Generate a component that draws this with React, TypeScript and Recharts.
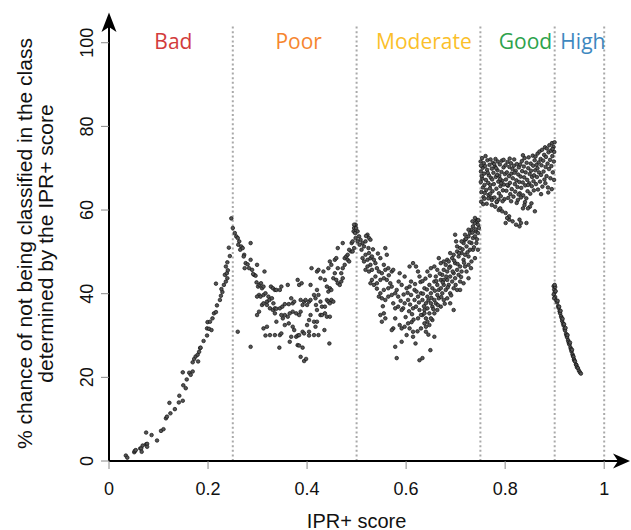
import React from 'react';
import { ScatterChart, Scatter, XAxis, YAxis, ReferenceLine, ReferenceDot } from 'recharts';

// IPR+ score vs % chance of misclassification
const badPts = [
  [0.034, 1.3], [0.037, 0.8], [0.051, 2.1], [0.052, 2.4], [0.054, 2.6], [0.063, 3.0], [0.065, 3.0],
  [0.066, 2.2], [0.068, 3.7], [0.075, 4.0], [0.077, 4.1], [0.077, 3.4], [0.075, 6.8], [0.086, 6.2],
  [0.097, 4.9], [0.105, 7.2], [0.110, 7.6], [0.115, 10.2], [0.117, 10.6], [0.124, 11.4], [0.133, 12.4],
  [0.122, 13.9], [0.141, 14.0], [0.142, 15.6], [0.149, 14.4], [0.150, 18.1], [0.155, 17.4], [0.157, 19.5],
  [0.162, 21.1], [0.165, 20.6], [0.169, 21.4], [0.149, 21.2], [0.169, 23.6], [0.172, 24.4], [0.175, 25.0],
  [0.179, 25.4], [0.182, 26.1], [0.180, 23.8], [0.184, 27.0], [0.185, 27.1], [0.191, 28.7], [0.198, 30.0],
  [0.198, 31.7], [0.202, 31.6], [0.207, 31.3], [0.199, 33.2], [0.204, 33.3], [0.209, 34.1], [0.212, 35.3],
  [0.216, 35.6], [0.218, 37.2], [0.216, 42.4], [0.224, 38.5], [0.226, 39.5], [0.229, 40.4], [0.227, 41.1],
  [0.232, 42.1], [0.236, 42.9], [0.239, 43.7], [0.234, 44.5], [0.238, 44.9], [0.240, 45.6], [0.236, 46.5],
  [0.239, 47.5], [0.242, 51.0], [0.244, 49.0],
];

const poorPts = [
  [0.247, 58.0], [0.250, 55.7], [0.254, 54.5], [0.257, 53.7], [0.260, 53.3], [0.263, 52.5], [0.261, 51.7],
  [0.267, 51.3], [0.265, 50.5], [0.270, 50.9], [0.273, 49.3], [0.272, 48.9], [0.276, 47.3], [0.280, 47.0],
  [0.274, 46.1], [0.283, 46.1], [0.286, 52.1], [0.286, 48.1], [0.289, 45.7], [0.293, 44.5], [0.296, 44.3],
  [0.299, 46.9], [0.291, 44.7], [0.298, 42.7], [0.301, 41.7], [0.304, 42.1], [0.307, 42.5], [0.309, 41.3],
  [0.312, 41.7], [0.303, 39.7], [0.306, 39.3], [0.312, 39.7], [0.299, 39.3], [0.314, 45.3], [0.316, 40.1],
  [0.319, 38.1], [0.309, 37.3], [0.312, 37.7], [0.299, 34.9], [0.303, 35.7], [0.319, 37.3], [0.322, 39.3],
  [0.324, 38.5], [0.327, 41.7], [0.331, 41.3], [0.335, 40.9], [0.338, 40.9], [0.345, 40.9], [0.348, 41.7],
  [0.329, 38.9], [0.332, 37.7], [0.325, 36.5], [0.331, 36.1], [0.335, 36.5], [0.338, 36.4], [0.345, 36.5],
  [0.350, 36.9], [0.355, 37.5], [0.361, 42.1], [0.368, 38.9], [0.371, 37.7], [0.363, 37.5], [0.374, 38.1],
  [0.381, 43.3], [0.384, 42.1], [0.389, 42.5], [0.378, 35.3], [0.371, 35.7], [0.365, 35.3], [0.361, 34.5],
  [0.355, 34.9], [0.351, 34.1], [0.348, 34.9], [0.384, 34.9], [0.387, 35.7], [0.391, 37.3], [0.387, 38.5],
  [0.394, 38.1], [0.397, 38.5], [0.400, 37.3], [0.404, 38.1], [0.407, 38.5], [0.407, 42.1], [0.409, 46.1],
  [0.414, 39.7], [0.417, 38.9], [0.420, 40.9], [0.423, 39.7], [0.427, 38.1], [0.418, 37.3], [0.420, 36.1],
  [0.430, 36.9], [0.427, 34.9], [0.430, 34.9], [0.436, 35.3], [0.440, 34.5], [0.446, 34.5], [0.436, 36.9],
  [0.440, 38.5], [0.443, 38.1], [0.446, 37.7], [0.449, 38.5], [0.453, 38.1], [0.443, 40.5], [0.446, 41.3],
  [0.449, 40.9], [0.440, 41.7], [0.436, 43.3], [0.427, 43.7], [0.420, 45.3], [0.423, 45.7], [0.433, 45.3],
  [0.443, 46.1], [0.446, 47.7], [0.449, 46.9], [0.456, 48.1], [0.459, 48.5], [0.462, 46.1], [0.456, 44.9],
  [0.453, 43.7], [0.459, 43.3], [0.462, 42.5], [0.466, 42.1], [0.469, 42.9], [0.472, 43.7], [0.469, 44.9],
  [0.472, 46.1], [0.476, 46.9], [0.476, 48.5], [0.479, 48.9], [0.482, 48.1], [0.485, 47.7], [0.489, 50.1],
  [0.485, 50.5], [0.482, 49.3], [0.492, 50.1], [0.495, 50.9], [0.490, 52.1], [0.498, 53.3], [0.494, 54.9],
  [0.495, 55.7], [0.498, 56.5], [0.492, 52.5], [0.462, 50.9], [0.472, 52.1],
  [0.312, 31.7], [0.319, 32.1], [0.316, 30.0], [0.325, 30.1], [0.335, 30.1], [0.345, 30.1], [0.348, 30.5],
  [0.338, 33.3], [0.355, 32.5], [0.363, 32.9], [0.371, 32.1], [0.374, 31.3], [0.368, 29.7], [0.378, 29.7],
  [0.381, 30.0], [0.384, 30.1], [0.391, 30.9], [0.394, 30.5], [0.400, 32.5], [0.404, 30.9], [0.404, 30.0],
  [0.414, 33.3], [0.417, 32.1], [0.420, 33.3], [0.414, 30.1], [0.423, 30.1], [0.407, 34.9], [0.335, 35.3],
  [0.365, 28.5], [0.381, 27.7], [0.384, 27.6], [0.391, 27.1], [0.387, 24.9], [0.394, 23.9], [0.398, 24.4],
  [0.344, 27.1], [0.286, 27.3], [0.260, 30.9], [0.445, 28.1], [0.435, 31.3], [0.404, 33.7],
];

const moderatePts = [
  [0.495, 56.5], [0.499, 55.7], [0.502, 54.9], [0.497, 54.5], [0.505, 53.7], [0.508, 52.9], [0.502, 52.5],
  [0.512, 52.1], [0.506, 51.7], [0.515, 51.3], [0.510, 50.5], [0.522, 54.1], [0.525, 53.3], [0.528, 52.9],
  [0.518, 52.5], [0.524, 50.9], [0.525, 49.7], [0.518, 49.3], [0.512, 48.5], [0.515, 47.7], [0.522, 48.1],
  [0.528, 48.5], [0.531, 48.9], [0.535, 48.1], [0.538, 47.3], [0.528, 46.9], [0.522, 46.5], [0.518, 45.7],
  [0.525, 45.3], [0.531, 45.7], [0.541, 46.1], [0.545, 45.3], [0.551, 44.9], [0.558, 50.9], [0.561, 49.3],
  [0.548, 48.5], [0.555, 46.9], [0.558, 45.7], [0.564, 46.1], [0.571, 45.3], [0.574, 45.7], [0.538, 44.1],
  [0.531, 43.3], [0.528, 42.5], [0.535, 42.1], [0.541, 42.5], [0.548, 43.3], [0.555, 43.7], [0.561, 43.3],
  [0.568, 42.5], [0.571, 41.7], [0.564, 41.3], [0.555, 40.9], [0.548, 40.1], [0.545, 39.3], [0.551, 38.9],
  [0.558, 38.5], [0.564, 39.3], [0.571, 39.7], [0.578, 40.1], [0.581, 40.9], [0.584, 39.3], [0.591, 42.1],
  [0.587, 44.9], [0.597, 44.1], [0.601, 41.3], [0.607, 41.7], [0.610, 42.9], [0.614, 47.3], [0.607, 46.5],
  [0.620, 46.5], [0.624, 45.3], [0.627, 44.1], [0.617, 40.9], [0.610, 39.7], [0.604, 38.5], [0.597, 37.7],
  [0.594, 36.5], [0.591, 36.1], [0.584, 36.9], [0.578, 36.5], [0.574, 37.7], [0.555, 35.3], [0.548, 34.9],
  [0.558, 34.1], [0.551, 33.3], [0.578, 34.1], [0.587, 32.5], [0.591, 31.7], [0.597, 32.1], [0.604, 32.9],
  [0.607, 31.7], [0.614, 30.9], [0.601, 30.1], [0.591, 28.5], [0.578, 27.3], [0.574, 31.7], [0.571, 31.3],
  [0.614, 29.7], [0.630, 31.7], [0.640, 30.9], [0.647, 32.5], [0.653, 33.7], [0.657, 29.7], [0.649, 26.5],
  [0.581, 24.6], [0.627, 24.1], [0.633, 24.6],
  [0.617, 38.5], [0.624, 39.3], [0.630, 40.1], [0.637, 41.3], [0.633, 38.5], [0.640, 37.7], [0.643, 39.3],
  [0.650, 40.1], [0.647, 42.1], [0.653, 41.3], [0.657, 42.9], [0.660, 44.1], [0.663, 42.1], [0.666, 40.9],
  [0.670, 43.3], [0.673, 44.5], [0.676, 45.7], [0.680, 46.9], [0.683, 48.1], [0.686, 47.7], [0.689, 46.5],
  [0.693, 48.5], [0.696, 49.3], [0.699, 47.3], [0.703, 50.1], [0.706, 48.9], [0.709, 50.9], [0.712, 49.7],
  [0.716, 52.1], [0.719, 52.9], [0.722, 51.3], [0.726, 53.7], [0.729, 54.5], [0.732, 55.3], [0.735, 56.1],
  [0.739, 56.9], [0.742, 57.7], [0.745, 56.5], [0.741, 54.9], [0.735, 53.3], [0.732, 52.1], [0.729, 50.5],
  [0.726, 48.9], [0.719, 49.3], [0.716, 48.1], [0.709, 46.5], [0.703, 45.7], [0.696, 44.9], [0.689, 44.1],
  [0.683, 43.3], [0.676, 42.1], [0.670, 41.3], [0.663, 39.7], [0.657, 38.5], [0.650, 37.7], [0.643, 36.5],
  [0.637, 36.1], [0.633, 34.9], [0.640, 34.1], [0.647, 35.3], [0.653, 36.9], [0.660, 37.7], [0.666, 38.9],
  [0.673, 40.1], [0.680, 40.9], [0.686, 42.1], [0.693, 42.9], [0.699, 43.7], [0.706, 44.5], [0.712, 45.3],
  [0.719, 46.5], [0.726, 46.9], [0.732, 47.7], [0.739, 48.5], [0.745, 50.5], [0.742, 52.1], [0.739, 53.7],
  [0.745, 54.5], [0.735, 50.5], [0.722, 45.3], [0.709, 42.9], [0.703, 40.9], [0.696, 41.3], [0.689, 40.1],
  [0.683, 38.9], [0.676, 38.5], [0.670, 36.9], [0.663, 36.1], [0.657, 35.3], [0.650, 34.1], [0.643, 33.3],
  [0.640, 32.1], [0.637, 32.9], [0.637, 35.3], [0.627, 36.1], [0.620, 36.9], [0.614, 36.5], [0.624, 34.1],
  [0.630, 34.9], [0.696, 36.1], [0.689, 37.7], [0.676, 43.3], [0.663, 45.7], [0.657, 46.5], [0.650, 46.1],
  [0.643, 45.3], [0.670, 47.3], [0.676, 47.7], [0.666, 48.5], [0.689, 49.7], [0.703, 51.3], [0.712, 52.5],
  [0.726, 55.3], [0.719, 54.1], [0.739, 58.1], [0.744, 57.3], [0.747, 55.7], [0.734, 57.3], [0.709, 40.9],
  [0.716, 42.5], [0.726, 43.7], [0.683, 45.3], [0.699, 54.1], [0.701, 52.5],
  [0.603, 40.2], [0.608, 37.4], [0.612, 35.1], [0.618, 42.3], [0.621, 40.5], [0.626, 37.9], [0.629, 42.8],
  [0.634, 40.0], [0.636, 37.0], [0.639, 43.6], [0.642, 41.0], [0.645, 38.4], [0.648, 44.3], [0.651, 39.0],
  [0.655, 36.3], [0.658, 40.7], [0.661, 43.0], [0.664, 37.3], [0.668, 44.8], [0.671, 39.2], [0.674, 42.7],
  [0.678, 37.6], [0.681, 44.1], [0.684, 41.5], [0.687, 46.2], [0.691, 39.6], [0.694, 45.3], [0.697, 47.9],
  [0.700, 42.1], [0.704, 47.1], [0.707, 49.7], [0.711, 44.0], [0.714, 50.6], [0.717, 47.4], [0.721, 53.1],
  [0.724, 49.9], [0.728, 52.3], [0.731, 46.1], [0.734, 54.6], [0.737, 51.1], [0.740, 55.4], [0.743, 53.0],
  [0.746, 57.6], [0.611, 33.2], [0.623, 31.0], [0.619, 28.1], [0.606, 35.8], [0.599, 34.4], [0.589, 38.3],
  [0.585, 42.9], [0.565, 44.4], [0.543, 49.6], [0.533, 50.6], [0.519, 53.8], [0.541, 41.2], [0.553, 37.0],
  [0.595, 39.8], [0.633, 43.0], [0.645, 30.2], [0.615, 33.8],
];

const goodPts = [
  [0.7505, 71.6], [0.7512, 69.2], [0.7508, 66.7], [0.7521, 64.3], [0.7516, 62.0], [0.7534, 72.4], [0.7547, 70.1],
  [0.7539, 67.5], [0.7552, 65.4], [0.7561, 63.1], [0.7568, 71.2], [0.7575, 68.7], [0.7583, 66.0], [0.7579, 62.7],
  [0.7596, 70.5], [0.7604, 72.9], [0.7611, 67.2], [0.7619, 64.8], [0.7627, 61.5], [0.7635, 69.6], [0.7642, 71.9],
  [0.7656, 66.5], [0.7663, 63.6], [0.7671, 68.3], [0.7684, 70.8], [0.7692, 65.2], [0.7705, 72.1], [0.7713, 67.7],
  [0.7722, 62.9], [0.7731, 69.9], [0.7744, 64.5], [0.7752, 71.3], [0.7526, 68.1], [0.7588, 64.1], [0.7648, 68.9],
  [0.7701, 66.0], [0.7738, 67.3], [0.7512, 70.6], [0.7557, 61.4], [0.7699, 63.9],
  [0.7763, 68.9], [0.7771, 66.2], [0.7784, 63.0], [0.7792, 70.4], [0.7805, 72.2], [0.7811, 67.9], [0.7823, 65.1],
  [0.7830, 61.9], [0.7846, 69.5], [0.7851, 71.6], [0.7862, 66.8], [0.7874, 64.0], [0.7881, 68.2], [0.7893, 70.9],
  [0.7905, 65.7], [0.7912, 63.3], [0.7926, 69.1], [0.7933, 71.8], [0.7941, 67.0], [0.7955, 64.7], [0.7968, 70.2],
  [0.7974, 66.1], [0.7986, 62.6], [0.7995, 68.6], [0.7779, 71.0], [0.7838, 68.4], [0.7899, 67.4], [0.7948, 62.1],
  [0.7817, 70.0], [0.7969, 72.0], [0.7867, 62.5], [0.7920, 66.4],
  [0.8008, 70.7], [0.8016, 67.3], [0.8025, 64.6], [0.8034, 69.0], [0.8047, 71.5], [0.8059, 65.8], [0.8063, 62.9],
  [0.8078, 68.1], [0.8085, 70.3], [0.8097, 66.5], [0.8104, 63.8], [0.8116, 71.2], [0.8125, 68.7], [0.8133, 65.0],
  [0.8147, 69.8], [0.8154, 67.6], [0.8168, 63.2], [0.8176, 70.6], [0.8182, 72.1], [0.8195, 66.2], [0.8203, 64.4],
  [0.8214, 69.4], [0.8227, 67.1], [0.8236, 71.0], [0.8248, 65.5], [0.8256, 62.4], [0.8264, 68.5], [0.8277, 70.2],
  [0.8286, 66.7], [0.8295, 64.0], [0.8041, 66.0], [0.8121, 62.1], [0.8189, 68.9], [0.8272, 63.7], [0.8092, 72.3],
  [0.8233, 61.7],
  [0.8304, 70.9], [0.8312, 68.0], [0.8325, 65.3], [0.8337, 71.7], [0.8343, 69.3], [0.8356, 66.6], [0.8364, 63.5],
  [0.8378, 70.4], [0.8385, 67.8], [0.8392, 72.4], [0.8406, 65.9], [0.8413, 69.0], [0.8427, 62.8], [0.8434, 71.3],
  [0.8446, 67.2], [0.8453, 64.5], [0.8467, 70.0], [0.8474, 72.6], [0.8488, 66.4], [0.8495, 68.6], [0.8507, 63.9],
  [0.8516, 71.1], [0.8524, 69.4], [0.8538, 65.7], [0.8545, 67.9], [0.8557, 73.0], [0.8566, 70.6], [0.8579, 64.7],
  [0.8584, 68.3], [0.8596, 71.9], [0.8319, 63.0], [0.8401, 61.9], [0.8462, 66.0], [0.8531, 61.6], [0.8573, 66.9],
  [0.8359, 73.1],
  [0.8607, 69.5], [0.8614, 72.8], [0.8623, 66.2], [0.8635, 70.8], [0.8642, 67.9], [0.8656, 73.5], [0.8663, 64.9],
  [0.8677, 71.4], [0.8684, 69.0], [0.8695, 74.0], [0.8704, 66.8], [0.8716, 72.2], [0.8725, 68.4], [0.8733, 70.7],
  [0.8746, 74.4], [0.8752, 65.6], [0.8768, 71.8], [0.8775, 69.2], [0.8787, 73.2], [0.8793, 67.3], [0.8805, 75.0],
  [0.8817, 70.3], [0.8824, 72.7], [0.8836, 68.1], [0.8843, 74.7], [0.8857, 71.1], [0.8864, 65.4], [0.8876, 73.8],
  [0.8885, 69.8], [0.8893, 75.5], [0.8907, 72.0], [0.8914, 67.6], [0.8926, 74.2], [0.8933, 70.5], [0.8946, 76.0],
  [0.8953, 72.9], [0.8962, 69.0], [0.8975, 75.1], [0.8983, 71.6], [0.8991, 73.9], [0.8987, 67.2], [0.8941, 65.0],
  [0.8871, 64.2], [0.8725, 63.8], [0.8998, 76.2], [0.8958, 74.6], [0.8812, 66.4], [0.8652, 70.0],
  [0.773, 61.2], [0.780, 60.8], [0.787, 60.0], [0.794, 59.7], [0.790, 60.4], [0.801, 59.3], [0.808, 57.7],
  [0.801, 56.9], [0.815, 57.3], [0.829, 57.7], [0.822, 56.5], [0.832, 56.9], [0.843, 56.9], [0.829, 56.1],
  [0.860, 59.7], [0.850, 60.8], [0.839, 61.2], [0.836, 60.4], [0.846, 60.4], [0.783, 62.0], [0.773, 62.4],
  [0.766, 62.8], [0.808, 58.5], [0.804, 58.1],
];

const highPts = [
  [0.898, 41.8], [0.899, 41.0], [0.901, 41.6], [0.900, 40.3], [0.898, 39.8], [0.901, 39.2], [0.899, 38.9],
  [0.902, 40.6], [0.900, 42.1], [0.903, 38.4], [0.905, 37.9], [0.906, 38.3], [0.907, 37.0], [0.908, 36.6],
  [0.909, 36.9], [0.910, 35.8], [0.911, 35.3], [0.912, 35.9], [0.913, 34.6], [0.914, 34.2], [0.915, 33.5],
  [0.916, 34.0], [0.917, 32.9], [0.918, 32.4], [0.919, 32.7], [0.920, 31.6], [0.921, 31.2], [0.922, 31.8],
  [0.923, 30.4], [0.924, 30.0], [0.925, 29.6], [0.926, 30.1], [0.927, 28.9], [0.928, 28.5], [0.929, 28.1],
  [0.930, 27.8], [0.931, 28.3], [0.932, 27.1], [0.933, 26.7], [0.934, 26.2], [0.935, 26.6], [0.936, 25.5],
  [0.937, 25.1], [0.938, 24.9], [0.939, 24.3], [0.940, 24.0], [0.941, 23.8], [0.943, 23.1], [0.944, 22.9],
  [0.945, 22.4], [0.947, 22.2], [0.949, 21.6], [0.951, 21.2], [0.953, 20.9],
];

const xTicks = [0, 0.2, 0.4, 0.6, 0.8, 1];
const yTicks = [0, 20, 40, 60, 80, 100];
const classBounds = [0.25, 0.5, 0.75, 0.9, 1];
const classNames = ['Bad', 'Poor', 'Moderate', 'Good', 'High'];
const classColors = ['#d23c3c', '#f6862f', '#fbbf2a', '#2da24c', '#3e88bf'];
const classLabelX = [0.13, 0.383, 0.636, 0.841, 0.957];

const points = [...badPts, ...poorPts, ...moderatePts, ...goodPts, ...highPts].map(([x, y]) => ({ x, y }));

const AXIS_FONT = '"Liberation Sans", Arial, Helvetica, sans-serif';

const Dot = (props: any) => (
  <circle cx={props.cx} cy={props.cy} r={1.8} fill="#555" stroke="#111" strokeWidth={0.7} />
);

const XTick = ({ x, y, payload }: any) => (
  <text x={x} y={y + 23.5} textAnchor="middle" fontSize={18} fontFamily={AXIS_FONT} fill="#111">
    {payload.value}
  </text>
);

const YTick = ({ x, y, payload }: any) => (
  <text transform={`translate(${x - 6.5},${y}) rotate(-90)`} textAnchor="middle" fontSize={18} fontFamily={AXIS_FONT} fill="#111">
    {payload.value}
  </text>
);

const XArrow = ({ cx, cy }: any) => (
  <path d={`M${cx + 6},${cy} L${cx - 11},${cy - 7.5} L${cx - 6},${cy} L${cx - 11},${cy + 7.5} Z`} fill="#000" />
);

const YArrow = ({ cx, cy }: any) => (
  <path d={`M${cx},${cy - 13.5} L${cx - 7.5},${cy + 6} L${cx},${cy + 1} L${cx + 7.5},${cy + 6} Z`} fill="#000" />
);

const YLabel = ({ cx, cy }: any) => (
  <g fontSize={21} fontFamily={AXIS_FONT} fill="#111" textAnchor="middle">
    <text transform={`translate(${cx - 77.5},${cy}) rotate(-90)`}>% chance of not being classified in the class</text>
    <text transform={`translate(${cx - 56},${cy}) rotate(-90)`}>determined by the IPR+ score</text>
  </g>
);

const XLabel = ({ cx, cy }: any) => (
  <text x={cx} y={cy + 66.5} textAnchor="middle" fontSize={20} fontFamily={AXIS_FONT} fill="#111">
    IPR+ score
  </text>
);

export default function App() {
  return (
    <div style={{ position: 'absolute', left: 0, top: 0, background: '#fff' }}>
      <ScatterChart width={631} height={530} margin={{ top: 26, right: 7, bottom: 0, left: 0 }}>
        <XAxis
          type="number"
          dataKey="x"
          domain={[0, 1.04]}
          ticks={xTicks}
          interval={0}
          allowDataOverflow
          height={69}
          tickSize={8}
          tickMargin={2}
          tick={<XTick />}
          axisLine={{ stroke: '#000', strokeWidth: 2 }}
          tickLine={{ stroke: '#888', strokeWidth: 1 }}
        />
        <YAxis
          type="number"
          dataKey="y"
          domain={[0, 104]}
          ticks={yTicks}
          interval={0}
          allowDataOverflow
          width={109}
          tickSize={8}
          tickMargin={2}
          tick={<YTick />}
          axisLine={{ stroke: '#000', strokeWidth: 2 }}
          tickLine={{ stroke: '#888', strokeWidth: 1 }}
        />
        {classBounds.map((b) => (
          <ReferenceLine key={b} x={b} stroke="#a9a9a9" strokeWidth={2} strokeDasharray="2 2.6" />
        ))}
        <Scatter data={points} shape={<Dot />} isAnimationActive={false} />
        {classNames.map((name, i) => (
          <ReferenceDot
            key={name}
            x={classLabelX[i]}
            y={98.5}
            ifOverflow="visible"
            shape={({ cx, cy }: any) => (
              <text x={cx} y={cy} textAnchor="middle" fontSize={21} fontFamily='"Open Sans", sans-serif' fill={classColors[i]}>
                {name}
              </text>
            )}
          />
        ))}
        <ReferenceDot x={1.04} y={0} ifOverflow="visible" shape={<XArrow />} />
        <ReferenceDot x={0} y={104} ifOverflow="visible" shape={<YArrow />} />
        <ReferenceDot x={0} y={52} ifOverflow="visible" shape={<YLabel />} />
        <ReferenceDot x={0.5} y={0} ifOverflow="visible" shape={<XLabel />} />
      </ScatterChart>
    </div>
  );
}
